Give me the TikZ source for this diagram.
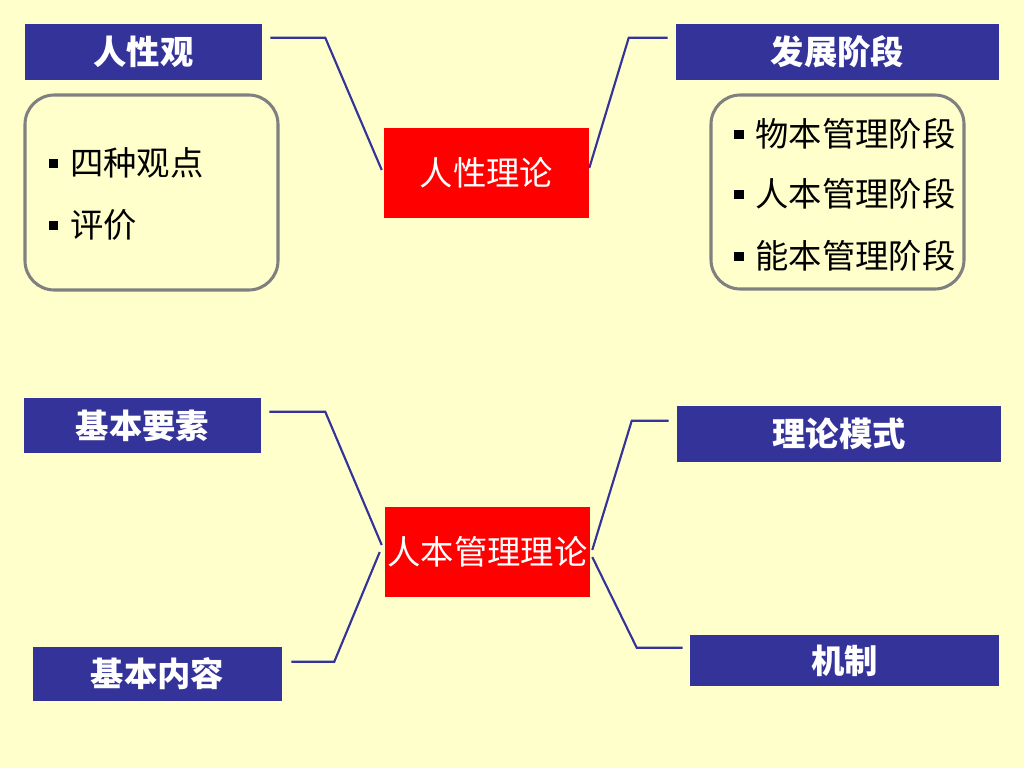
\documentclass[tikz,border=0pt]{standalone}
\usepackage{fontspec}
\newfontfamily\cjk{Noto Sans CJK SC}
\usetikzlibrary{calc}
\definecolor{bg}{HTML}{FFFFCC}
\definecolor{navy}{HTML}{333399}
\definecolor{framegray}{HTML}{808080}
\tikzset{
 conn/.style={draw=navy, line width=1.6pt},
 bluebox/.style={fill=navy, text=white, inner sep=0pt, font=\cjk\bfseries\fontsize{25}{30}\selectfont},
 redbox/.style={fill=red, text=white, inner sep=0pt, font=\cjk\fontsize{25}{30}\selectfont},
 roundbox/.style={draw=framegray, line width=2.3pt, rounded corners=22pt, inner sep=0pt},
 item/.style={inner sep=0pt, anchor=west, font=\cjk\fontsize{25}{30}\selectfont, text=black},
}
\newcommand\bul{\raisebox{5.5pt}{\rule{7pt}{7pt}}\hspace{9pt}}
\begin{document}
\begin{tikzpicture}[x=0.75pt,y=-0.75pt]
\fill[bg] (0,0) rectangle (1024,768);
\useasboundingbox (0,0) rectangle (1024,768);

% top group
\node[bluebox, minimum width=177.75pt, minimum height=42pt] (rxg) at (143.5,52) {人性观};
\node[bluebox, minimum width=242.25pt, minimum height=42pt] (fzjd) at (837.5,52) {发展阶段};
\node[roundbox, minimum width=189.75pt, minimum height=146.25pt] (lbox) at (151.5,192.5) {};
\node[roundbox, minimum width=189.75pt, minimum height=145.5pt] (rbox) at (837.5,192) {};
\node[redbox, minimum width=153.75pt, minimum height=67.5pt] (rxll) at (486.5,173) {人性理论};

\node[item] (l1) at (48.5,163) {\bul 四种观点};
\node[item] (l2) at (48.5,225) {\bul 评价};
\node[item] (r1) at (734,134) {\bul 物本管理阶段};
\node[item] (r2) at (734,194) {\bul 人本管理阶段};
\node[item] (r3) at (734,256) {\bul 能本管理阶段};

% bottom group
\node[bluebox, minimum width=177.75pt, minimum height=41.25pt] (jbys) at (142.5,425.5) {基本要素};
\node[bluebox, minimum width=186.75pt, minimum height=40.5pt] (jbnr) at (157.5,674) {基本内容};
\node[bluebox, minimum width=243pt, minimum height=42pt] (llms) at (839,434) {理论模式};
\node[bluebox, minimum width=231.75pt, minimum height=38.25pt] (jz) at (844.5,660.5) {机制};
\node[redbox, minimum width=153.75pt, minimum height=67.5pt] (rbgl) at (487.5,552) {人本管理理论};

% connectors
\draw[conn] ($(rxg.north east)+(8,14)$) -- ++(55,0) -- ($(rxll.west)+(-2,-3)$);
\draw[conn] ($(fzjd.north west)+(-8,14)$) -- ++(-39,0) -- ($(rxll.east)+(0,-5)$);
\draw[conn] ($(jbys.north east)+(8,14)$) -- ++(56,0) -- ($(rbgl.west)+(-3,-7)$);
\draw[conn] ($(jbnr.north east)+(9,15)$) -- ++(43,0) -- ($(rbgl.west)+(-5,0)$);
\draw[conn] ($(llms.north west)+(-8,15)$) -- ++(-37,0) -- ($(rbgl.east)+(2,-2)$);
\draw[conn] ($(jz.north west)+(-7,13)$) -- ++(-46,0) -- ($(rbgl.east)+(2,5)$);
\end{tikzpicture}
\end{document}
